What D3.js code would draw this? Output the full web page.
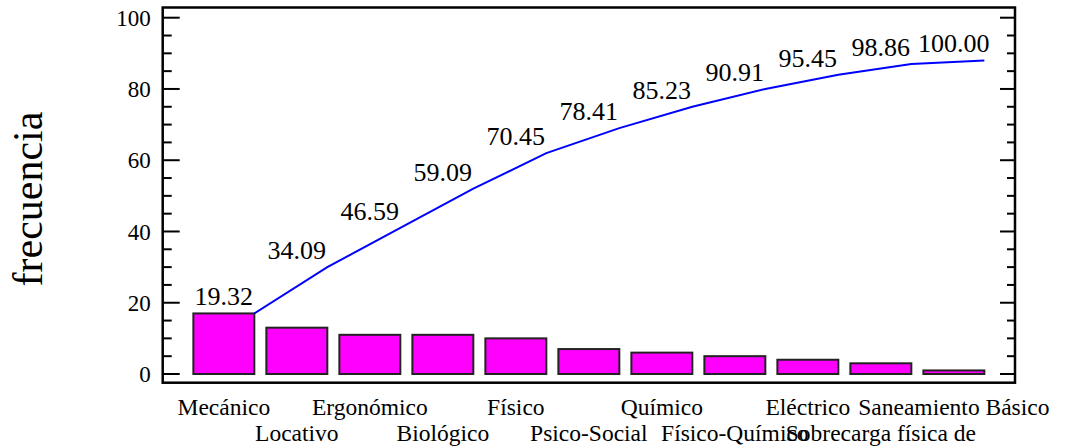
<!DOCTYPE html>
<html>
<head>
<meta charset="utf-8">
<script src="https://cdn.jsdelivr.net/npm/d3@7"></script>
<style>
  body { margin: 0; background: #fff; }
</style>
</head>
<body>
<script>
'use strict';

// categories and counts, sorted as in the Pareto chart
const categories = ["Mecánico", "Locativo", "Ergonómico", "Biológico", "Físico", "Psico-Social",
  "Químico", "Físico-Químico", "Eléctrico", "Sobrecarga física de", "Saneamiento Básico"];
const counts = [17, 13, 11, 11, 10, 7, 6, 5, 4, 3, 1];
const yTicks = [0, 20, 40, 60, 80, 100];

(function() {

  const width = 1066, height = 448;
  const plotLeft = 162.7, plotRight = 1015, plotTop = 7.5, plotBottom = 382.7;
  const serif = "'Liberation Serif', 'DejaVu Serif', serif";

  const svg = d3.select("body").append("svg")
    .attr("width", width)
    .attr("height", height)
    .attr("font-family", serif);

  // cumulative counts and percentages
  const total = d3.sum(counts);
  const cum = d3.cumsum(counts);
  const rows = categories.map((c, i) => ({
    name: c, count: counts[i], cum: cum[i], pct: cum[i] / total * 100, i: i
  }));

  const x = d3.scaleBand()
    .domain(categories)
    .range([plotLeft, plotRight])
    .paddingInner(0.165)
    .paddingOuter(0.42);

  const y = d3.scaleLinear()
    .domain([0, 100])
    .range([374, 17.7]);

  // bars
  svg.selectAll(".bar")
    .data(rows)
    .enter()
    .append("rect")
      .attr("x", d => x(d.name))
      .attr("y", d => y(d.count))
      .attr("width", x.bandwidth())
      .attr("height", d => y(0) - y(d.count))
      .attr("fill", "#ff00ff")
      .attr("stroke", "#222")
      .attr("stroke-width", 2);

  // cumulative line, drawn at the right edge of each bar
  const line = d3.line()
    .x(d => x(d.name) + x.bandwidth())
    .y(d => y(d.cum));

  svg.append("path")
    .datum(rows)
    .attr("d", line)
    .attr("fill", "none")
    .attr("stroke", "#0000ff")
    .attr("stroke-width", 2);

  // cumulative percentage labels
  svg.selectAll(".pct")
    .data(rows)
    .enter()
    .append("text")
      .attr("x", d => x(d.name) + x.bandwidth() / 2)
      .attr("y", d => y(d.cum) - 8)
      .attr("text-anchor", "middle")
      .attr("font-family", serif)
      .style("font-size", "26px")
      .text(d => d.pct.toFixed(2));

  // ticks on left and right sides (pointing inward)
  const minor = d3.range(0, 101, 5).filter(v => v % 20 !== 0);
  const g = svg.append("g").attr("stroke", "#000").attr("stroke-width", 2);
  yTicks.forEach(v => {
    g.append("line").attr("x1", plotLeft).attr("x2", plotLeft + 17).attr("y1", y(v)).attr("y2", y(v));
    g.append("line").attr("x1", plotRight).attr("x2", plotRight - 15).attr("y1", y(v)).attr("y2", y(v));
  });
  minor.forEach(v => {
    g.append("line").attr("x1", plotLeft).attr("x2", plotLeft + 9).attr("y1", y(v)).attr("y2", y(v));
    g.append("line").attr("x1", plotRight).attr("x2", plotRight - 8).attr("y1", y(v)).attr("y2", y(v));
  });

  // tick labels
  svg.selectAll(".ytick")
    .data(yTicks)
    .enter()
    .append("text")
      .attr("x", plotLeft - 12)
      .attr("y", d => y(d))
      .attr("dy", "0.35em")
      .attr("text-anchor", "end")
      .attr("font-family", serif)
      .style("font-size", "23px")
      .text(d => d);

  // frame
  svg.append("rect")
    .attr("x", plotLeft)
    .attr("y", plotTop)
    .attr("width", plotRight - plotLeft)
    .attr("height", plotBottom - plotTop)
    .attr("fill", "none")
    .attr("stroke", "#000")
    .attr("stroke-width", 2.5);

  // category labels, alternating rows (overlap kept as in the original)
  svg.selectAll(".cat")
    .data(rows)
    .enter()
    .append("text")
      .attr("x", d => x(d.name) + x.bandwidth() / 2)
      .attr("y", d => d.i % 2 === 0 ? 415 : 441)
      .attr("text-anchor", "middle")
      .attr("font-family", serif)
      .style("font-size", "23.5px")
      .text(d => d.name);

  // y axis title
  svg.append("text")
    .attr("transform", "translate(42, 199)rotate(-90)")
    .attr("text-anchor", "middle")
    .attr("font-family", serif)
    .style("font-size", "42px")
    .text("frecuencia");

})();
</script>
</body>
</html>
